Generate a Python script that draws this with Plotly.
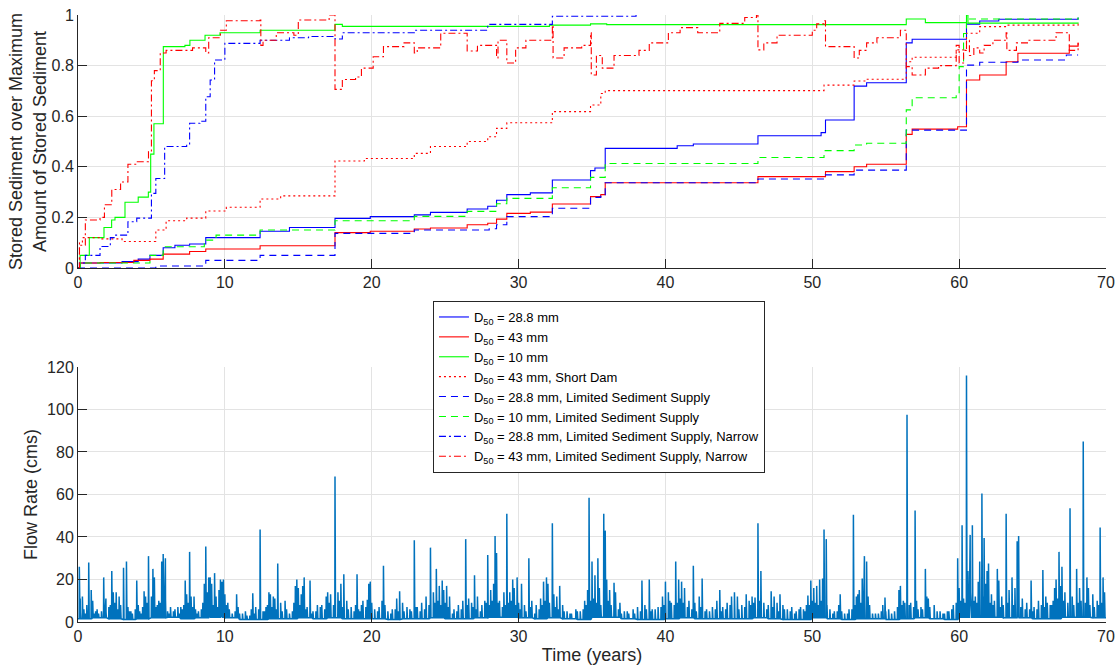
import plotly.graph_objects as go

# ---- Stored sediment / max stored sediment: (year, fraction) step series ----
d288 = [(0, 0), (0.14, 0.02), (3.0, 0.025), (4.1, 0.035), (4.9, 0.05), (5.8, 0.08), (6.6, 0.09),
        (7.6, 0.095), (8.7, 0.12), (12.4, 0.145), (14.4, 0.16), (17.5, 0.196), (19.9, 0.203),
        (22.9, 0.21), (24.0, 0.22), (26.5, 0.233), (27.9, 0.244), (28.5, 0.268), (29.2, 0.29),
        (30.8, 0.297), (32.3, 0.348), (34.9, 0.385), (35.2, 0.395), (35.9, 0.473), (40.8, 0.483),
        (41.9, 0.49), (46.3, 0.523), (50.6, 0.535), (50.9, 0.585), (52.85, 0.719), (53.7, 0.732),
        (56.4, 0.89), (56.8, 0.904), (60.5, 0.964), (61.4, 0.976), (62.7, 0.983), (68.1, 0.99)]

d43 = [(0, 0), (0.14, 0.02), (1.5, 0.022), (3.8, 0.03), (4.9, 0.035), (5.8, 0.055), (7.6, 0.065),
       (8.7, 0.075), (12.4, 0.088), (17.5, 0.14), (19.9, 0.145), (22.9, 0.154), (24.0, 0.158),
       (26.5, 0.171), (27.9, 0.177), (28.5, 0.193), (29.2, 0.216), (30.8, 0.221), (32.3, 0.253),
       (34.9, 0.282), (35.6, 0.29), (35.9, 0.337), (46.3, 0.361), (50.9, 0.381), (52.85, 0.4),
       (53.7, 0.41), (56.4, 0.528), (56.8, 0.549), (59.9, 0.558), (60.5, 0.743), (61.4, 0.763),
       (63.2, 0.815), (64.0, 0.849), (67.5, 0.877), (68.1, 0.89)]

d10 = [(0, 0), (0.14, 0.05), (0.77, 0.12), (1.77, 0.16), (2.29, 0.19), (2.52, 0.20), (3.2, 0.26),
       (4.1, 0.28), (4.79, 0.30), (4.95, 0.45), (5.17, 0.57), (5.81, 0.875), (7.28, 0.88),
       (7.62, 0.90), (8.65, 0.92), (9.67, 0.93), (12.4, 0.94), (17.5, 0.963), (18.0, 0.955),
       (32.1, 0.96), (34.9, 0.965), (36.0, 0.962), (56.4, 0.984), (57.7, 0.97), (60.5, 1.0),
       (60.6, 0.968), (68.1, 0.965)]

d43_short_dam = [(0, 0), (0.1, 0.1), (0.3, 0.12), (1.5, 0.115), (3.0, 0.105), (5.3, 0.15),
                 (6.0, 0.187), (7.4, 0.197), (8.7, 0.225), (10.1, 0.24), (12.4, 0.273),
                 (13.8, 0.285), (17.5, 0.423), (19.5, 0.433), (22.9, 0.453), (24.0, 0.48),
                 (26.5, 0.5), (27.9, 0.519), (28.5, 0.552), (29.2, 0.574), (32.3, 0.618),
                 (34.9, 0.644), (35.6, 0.69), (35.9, 0.701), (50.8, 0.723), (52.85, 0.739),
                 (53.7, 0.746), (56.4, 0.815), (56.8, 0.833), (59.8, 0.862), (60.5, 0.928),
                 (61.4, 0.954), (63.2, 0.96), (68.1, 0.97)]

d288_limited = [(0, 0), (5.3, 0.008), (8.7, 0.03), (12.4, 0.05), (17.5, 0.137), (22.9, 0.15),
                (28.0, 0.155), (28.5, 0.171), (29.2, 0.203), (32.3, 0.236), (34.9, 0.279),
                (35.6, 0.285), (35.9, 0.337), (46.3, 0.352), (50.8, 0.368), (52.85, 0.387),
                (56.4, 0.545), (60.5, 0.802), (61.4, 0.813), (64.0, 0.822), (67.3, 0.842),
                (68.1, 0.842)]

d10_limited = [(0, 0), (0.14, 0.02), (4.9, 0.05), (5.8, 0.084), (8.6, 0.11), (9.4, 0.13),
               (12.4, 0.15), (17.5, 0.187), (22.9, 0.204), (26.5, 0.224), (28.5, 0.254),
               (29.2, 0.275), (32.3, 0.317), (34.9, 0.358), (35.9, 0.413), (46.3, 0.437),
               (50.8, 0.464), (52.85, 0.486), (53.7, 0.493), (56.4, 0.625), (56.8, 0.673),
               (59.8, 0.686), (60.0, 0.796), (60.3, 0.927), (60.5, 0.984), (68.1, 0.99)]

d288_narrow = [(0, 0), (0.1, 0.02), (0.5, 0.05), (1.5, 0.085), (2.2, 0.12), (2.5, 0.13),
               (3.4, 0.183), (4.0, 0.197), (5.0, 0.295), (5.3, 0.354), (5.9, 0.48), (7.4, 0.49),
               (7.6, 0.572), (8.3, 0.58), (8.7, 0.677), (9.0, 0.743), (9.3, 0.822), (10.0, 0.888),
               (12.4, 0.9), (14.4, 0.91), (15.7, 0.915), (17.5, 0.905), (18.0, 0.93),
               (22.9, 0.94), (27.9, 0.963), (32.3, 0.995), (38.0, 1.0)]

d43_narrow = [(0, 0), (0.1, 0.09), (0.5, 0.19), (1.5, 0.2), (1.8, 0.25), (2.3, 0.31), (2.9, 0.34),
              (3.4, 0.41), (4.0, 0.42), (4.8, 0.46), (5.0, 0.74), (5.2, 0.78), (5.6, 0.85),
              (6.0, 0.86), (7.8, 0.87), (8.7, 0.85), (8.9, 0.91), (9.7, 0.94), (10.1, 0.977),
              (12.4, 0.98), (12.45, 0.88), (12.6, 0.9), (13.5, 0.93), (14.7, 0.92), (15.0, 0.98),
              (17.1, 1.0), (17.5, 0.706), (18.0, 0.745), (18.9, 0.755), (19.3, 0.79),
              (20.1, 0.835), (20.8, 0.875), (22.2, 0.89), (22.9, 0.85), (23.1, 0.87),
              (24.7, 0.928), (26.5, 0.858), (27.2, 0.88), (28.5, 0.83), (28.6, 0.9), (29.2, 0.81),
              (29.8, 0.87), (30.5, 0.9), (32.3, 0.96), (32.35, 0.83), (33.1, 0.87), (34.3, 0.88),
              (34.9, 0.93), (34.95, 0.763), (35.3, 0.84), (35.7, 0.79), (36.5, 0.84),
              (38.2, 0.86), (38.9, 0.89), (40.2, 0.93), (41.0, 0.95), (42.2, 0.93),
              (43.7, 0.967), (45.4, 0.99), (46.2, 1.0), (46.3, 0.862), (46.7, 0.89),
              (47.6, 0.92), (50.0, 0.94), (50.3, 0.965), (50.8, 0.977), (50.9, 0.875),
              (52.85, 0.83), (53.2, 0.86), (53.7, 0.89), (54.4, 0.91), (56.0, 0.94),
              (56.4, 0.796), (56.8, 0.763), (57.7, 0.79), (58.6, 0.8), (59.8, 0.88), (60.0, 0.81),
              (60.3, 0.86), (60.5, 0.9), (60.7, 0.84), (61.0, 0.87), (61.4, 0.85), (61.7, 0.88),
              (62.3, 0.9), (63.2, 0.93), (63.25, 0.86), (63.9, 0.89), (64.7, 0.9), (66.6, 0.93),
              (67.3, 0.93), (67.5, 0.86), (68.1, 0.89)]

# ---- Flow record (year, cms): flood peaks, freshets, small ripples; yearly base flow ----
flood_peaks = [(0.09, 26), (0.73, 28), (0.9, 15), (1.75, 21), (2.3, 24), (2.4, 14), (3.1, 25.5),
               (3.3, 28.5), (4.0, 19.5), (4.5, 14.5), (4.8, 31), (5.1, 25), (5.7, 28.5), (5.8, 32),
               (5.95, 30), (7.3, 19.5), (7.6, 33), (7.9, 12), (8.6, 18), (8.7, 35.5), (8.9, 21),
               (9.3, 23), (9.7, 20), (9.9, 20), (10.8, 13), (11.9, 13.5), (12.4, 43.5), (13.0, 14),
               (13.3, 12), (13.6, 27.5), (14.1, 10), (14.9, 20), (15.3, 17), (15.4, 21),
               (15.8, 19.5), (17.0, 14), (17.5, 68.5), (17.9, 18), (18.1, 22.5), (19.0, 22.5),
               (19.7, 10.5), (19.9, 19), (20.8, 26.5), (21.9, 14.5), (22.9, 38.5), (24.0, 35),
               (24.4, 25), (24.8, 19.5), (25.1, 17), (26.4, 39), (27.0, 22), (27.9, 31.5),
               (28.4, 40.5), (28.5, 32.5), (29.2, 51), (29.6, 20), (29.9, 21), (30.2, 18),
               (30.7, 30), (31.9, 21), (32.3, 46.5), (32.8, 17), (34.8, 58.5), (35.0, 28.5),
               (35.4, 30), (35.8, 51), (35.9, 43), (36.5, 18.5), (38.4, 19.5), (38.9, 20),
               (40.0, 19), (40.7, 28.5), (40.9, 20), (41.9, 26.5), (42.5, 20.5), (43.7, 15),
               (44.7, 14), (45.5, 13), (46.1, 11.5), (46.3, 46.5), (46.5, 24), (47.2, 14.5),
               (47.8, 13), (49.7, 12.5), (49.9, 19.5), (50.1, 16), (50.7, 20.5), (50.8, 43.5),
               (50.95, 39), (51.9, 13), (52.8, 50.5), (53.1, 13), (53.4, 20.5), (53.55, 31),
               (53.7, 28.5), (54.95, 11.5), (56.0, 17), (56.45, 97.5), (57.0, 52.5), (57.7, 25),
               (57.8, 12), (59.9, 30), (60.2, 45.5), (60.5, 116), (60.6, 24), (60.75, 41),
               (60.9, 45.5), (61.4, 28.5), (61.55, 60.5), (61.7, 39.5), (61.9, 24), (62.0, 27.5),
               (62.6, 25), (62.7, 19.5), (63.2, 51), (63.6, 21), (63.95, 38), (64.05, 40.5),
               (64.9, 19.5), (65.7, 24.5), (66.5, 16), (66.8, 33), (67.0, 26), (67.55, 53.5),
               (68.0, 25), (68.45, 85), (68.7, 21), (69.6, 44.5), (69.8, 21)]

freshets = [(0.15, 11), (0.3, 12), (0.5, 4), (1.0, 10), (1.2, 5), (1.4, 4), (1.6, 5), (1.9, 11),
            (2.1, 7), (2.2, 8), (2.6, 14), (2.8, 12), (2.9, 8), (3.5, 5), (3.7, 4), (3.9, 6),
            (4.2, 5), (4.4, 7), (4.6, 12), (5.0, 12), (5.2, 21), (5.4, 8), (5.6, 9), (6.1, 5),
            (6.3, 7), (6.6, 6), (6.8, 7), (7.0, 7), (7.2, 8), (7.4, 13), (7.7, 12), (8.0, 6),
            (8.2, 5), (8.4, 6), (8.8, 14), (9.0, 21), (9.1, 18), (9.4, 12), (9.6, 15), (9.8, 19),
            (10.0, 13), (10.2, 9), (10.5, 4), (10.9, 7), (11.2, 4), (11.5, 3), (11.8, 6),
            (12.1, 7), (12.6, 5), (12.8, 7), (13.1, 13), (13.4, 11), (13.8, 9), (14.2, 6),
            (14.6, 5), (14.8, 17), (15.0, 16), (15.2, 13), (15.6, 7), (16.0, 5), (16.3, 8),
            (16.6, 8), (16.9, 12), (17.2, 13), (17.7, 14), (18.3, 10), (18.6, 7), (18.9, 8),
            (19.2, 5), (19.4, 10), (19.8, 18), (20.2, 6), (20.5, 7), (20.7, 10), (21.1, 5),
            (21.4, 6), (21.7, 11), (22.1, 9), (22.4, 7), (22.7, 5), (23.1, 7), (23.4, 9),
            (23.7, 12), (24.2, 14), (24.6, 17), (24.9, 15), (25.3, 12), (25.6, 6), (25.9, 8),
            (26.2, 10), (26.6, 11), (26.8, 9), (27.2, 12), (27.5, 8), (27.7, 10), (28.1, 15),
            (28.3, 18), (28.7, 10), (29.0, 14), (29.4, 14), (29.7, 16), (30.0, 9), (30.4, 8),
            (30.9, 10), (31.2, 8), (31.5, 11), (31.7, 19), (32.0, 18), (32.4, 13), (32.6, 12),
            (33.0, 8), (33.3, 5), (33.6, 4), (33.9, 6), (34.2, 5), (34.5, 10), (34.7, 15),
            (35.2, 22), (35.5, 16), (36.0, 20), (36.2, 15), (36.6, 14), (36.9, 9), (37.2, 5),
            (37.5, 4), (37.8, 6), (38.1, 7), (38.6, 8), (39.1, 6), (39.5, 7), (39.8, 12),
            (40.2, 14), (40.4, 9), (41.1, 19), (41.3, 16), (41.6, 10), (42.0, 9), (42.3, 12),
            (42.8, 6), (43.2, 7), (43.5, 10), (43.9, 7), (44.2, 9), (44.5, 12), (44.9, 12),
            (45.2, 8), (45.7, 10), (45.9, 12), (46.7, 9), (47.0, 8), (47.4, 12), (47.6, 9),
            (48.0, 8), (48.3, 6), (48.6, 7), (48.9, 5), (49.2, 7), (49.4, 6), (49.6, 8),
            (50.3, 17), (50.5, 20), (51.2, 6), (51.5, 5), (51.8, 8), (52.2, 4), (52.5, 6),
            (53.0, 12), (53.2, 15), (53.8, 12), (54.1, 4), (54.5, 4), (54.8, 8), (55.2, 6),
            (55.6, 5), (55.9, 15), (56.2, 10), (56.7, 9), (57.1, 10), (57.4, 7), (57.9, 11),
            (58.3, 8), (58.7, 5), (59.0, 4), (59.3, 5), (59.6, 8), (60.0, 16), (60.3, 11),
            (60.8, 13), (61.1, 12), (61.3, 19), (61.8, 18), (62.2, 13), (62.4, 10), (62.9, 12),
            (63.4, 15), (63.8, 16), (64.3, 11), (64.6, 9), (65.1, 7), (65.4, 10), (65.9, 12),
            (66.2, 8), (66.4, 10), (66.6, 20), (66.9, 17), (67.2, 14), (67.7, 12), (68.2, 16),
            (68.8, 16), (69.1, 13), (69.4, 10), (69.9, 14)]

ripples = [(0.4, 6), (0.6, 8), (1.1, 4), (1.3, 6), (1.85, 5), (2.5, 9), (2.7, 6), (3.4, 7),
           (3.6, 5), (4.1, 8), (4.3, 4), (4.7, 9), (5.3, 7), (5.5, 10), (5.9, 8), (6.2, 4),
           (6.5, 5), (6.9, 4), (7.1, 6), (7.5, 9), (7.8, 7), (8.1, 4), (8.5, 9), (8.95, 10),
           (9.2, 8), (9.5, 7), (9.75, 11), (10.1, 8), (10.3, 6), (10.7, 5), (11.0, 4), (11.4, 5),
           (11.7, 3), (12.0, 4), (12.3, 6), (12.7, 5), (12.9, 8), (13.2, 7), (13.5, 6), (13.9, 5),
           (14.4, 4), (14.7, 9), (15.1, 8), (15.5, 6), (15.9, 4), (16.2, 5), (16.5, 7), (16.8, 6),
           (17.1, 9), (17.4, 8), (17.8, 10), (18.0, 7), (18.4, 6), (18.8, 5), (19.1, 6),
           (19.3, 8), (19.6, 7), (20.0, 9), (20.4, 5), (20.9, 8), (21.3, 4), (21.6, 6), (21.8, 5),
           (22.2, 5), (22.6, 6), (23.0, 7), (23.3, 5), (23.6, 6), (23.9, 8), (24.3, 9),
           (24.5, 10), (24.7, 8), (25.0, 9), (25.2, 7), (25.5, 4), (25.8, 5), (26.1, 6),
           (26.5, 8), (26.9, 7), (27.1, 6), (27.4, 5), (27.8, 9), (28.0, 8), (28.2, 10),
           (28.6, 9), (28.9, 7), (29.1, 8), (29.3, 9), (29.5, 10), (29.8, 8), (30.1, 6),
           (30.5, 5), (30.8, 7), (31.1, 4), (31.4, 6), (31.6, 8), (31.8, 10), (32.1, 9),
           (32.5, 7), (32.7, 6), (33.1, 5), (33.5, 4), (34.0, 5), (34.4, 6), (34.6, 8),
           (34.9, 10), (35.1, 11), (35.3, 9), (35.6, 8), (36.1, 10), (36.3, 8), (36.8, 6),
           (37.0, 4), (37.4, 5), (37.9, 4), (38.3, 5), (38.7, 6), (39.0, 5), (39.3, 6), (39.7, 7),
           (39.9, 8), (40.3, 10), (40.6, 8), (40.8, 9), (41.0, 11), (41.2, 9), (41.5, 7),
           (41.8, 6), (42.1, 5), (42.4, 7), (42.7, 5), (43.0, 5), (43.4, 6), (43.8, 5), (44.1, 6),
           (44.4, 8), (44.7, 7), (45.0, 6), (45.4, 7), (45.8, 8), (46.0, 9), (46.4, 10),
           (46.9, 6), (47.3, 7), (47.7, 5), (48.1, 6), (48.5, 5), (48.8, 4), (49.1, 6), (49.5, 5),
           (49.8, 8), (50.0, 10), (50.2, 9), (50.4, 8), (50.6, 10), (51.0, 8), (51.4, 4),
           (51.7, 5), (52.0, 5), (52.4, 4), (52.7, 6), (52.9, 8), (53.3, 9), (53.5, 10),
           (53.9, 8), (54.3, 4), (54.7, 5), (55.0, 5), (55.4, 4), (55.8, 7), (56.1, 8), (56.3, 9),
           (56.6, 8), (56.9, 7), (57.2, 6), (57.5, 6), (58.0, 7), (58.5, 5), (58.9, 4), (59.2, 5),
           (59.5, 6), (59.8, 9), (60.1, 10), (60.4, 9), (60.7, 11), (61.0, 10), (61.2, 9),
           (61.6, 12), (62.1, 9), (62.3, 8), (62.8, 7), (63.0, 8), (63.3, 9), (63.7, 8),
           (64.0, 10), (64.2, 7), (64.5, 6), (64.8, 6), (65.0, 5), (65.3, 6), (65.6, 8),
           (65.8, 7), (66.0, 9), (66.3, 8), (66.7, 11), (67.1, 10), (67.4, 9), (67.8, 8),
           (68.1, 9), (68.3, 10), (68.6, 9), (68.9, 8), (69.2, 7), (69.5, 8), (69.7, 9)]

base_flow = [1.5, 2, 1.5, 1.2, 1.5, 2, 2.2, 1.5, 2, 2.2, 2, 1.2, 1.2, 1.5, 1.5, 2, 1.5, 2, 1.5, 1.5,
             1.5, 1.2, 1.5, 1.5, 2, 1.5, 1.5, 2, 2.2, 2.2, 2, 1.5, 2, 1.5, 1.2, 2.2, 2.2, 1.5, 1.2,
             1.2, 1.5, 2, 1.5, 1.5, 1.5, 1.5, 2, 1.5, 1.2, 1.2, 2, 1.5, 1.2, 1.5, 1.5, 1.2, 1.5,
             2, 1.5, 1.2, 2.2, 2.2, 2.2, 2, 2, 1.5, 1.5, 2.2, 2.2, 2, 2]

BLUE, RED, GREEN = "rgb(0,0,255)", "rgb(255,0,0)", "rgb(0,255,0)"
DASH, DOT, DASHDOT = "7px,5px", "2px,3px", "7px,3px,2px,3px"

series = [
    ("D<sub>50</sub> = 28.8 mm", d288, BLUE, "solid"),
    ("D<sub>50</sub> = 43 mm", d43, RED, "solid"),
    ("D<sub>50</sub> = 10 mm", d10, GREEN, "solid"),
    ("D<sub>50</sub> = 43 mm, Short Dam", d43_short_dam, RED, DOT),
    ("D<sub>50</sub> = 28.8 mm, Limited Sediment Supply", d288_limited, BLUE, DASH),
    ("D<sub>50</sub> = 10 mm, Limited Sediment Supply", d10_limited, GREEN, DASH),
    ("D<sub>50</sub> = 28.8 mm, Limited Sediment Supply, Narrow", d288_narrow, BLUE, DASHDOT),
    ("D<sub>50</sub> = 43 mm, Limited Sediment Supply, Narrow", d43_narrow, RED, DASHDOT),
]

fig = go.Figure()
for name, pts, color, dash in series:
    fig.add_trace(go.Scatter(
        x=[p[0] for p in pts], y=[p[1] for p in pts], name=name, mode="lines",
        line=dict(color=color, width=1.1, dash=dash, shape="hv"),
        xaxis="x", yaxis="y",
    ))

# hydrograph: each event rises from the base flow and recedes back to it
events = sorted(flood_peaks + freshets + ripples)
fx, fy = [0.0], [base_flow[0]]
for t, q in events:
    b = base_flow[int(t)]
    fx += [t - 0.012, t, t + 0.01, t + 0.035]
    fy += [b, q, b + 0.3 * (q - b), b]
fx.append(70.0)
fy.append(base_flow[-1])
fig.add_trace(go.Scatter(x=fx, y=fy, mode="lines", showlegend=False,
                         line=dict(color="#0072BD", width=1.5),
                         xaxis="x2", yaxis="y2"))

FONT = "Liberation Sans, Arial, Helvetica, sans-serif"
INK = "#262626"
GRID = "#e3e3e3"
axis_common = dict(showgrid=True, gridcolor=GRID, gridwidth=1, zeroline=False,
                   showline=True, linecolor=INK, linewidth=1, ticks="inside",
                   ticklen=9, tickcolor=INK, tickfont=dict(size=16, color=INK),
                   mirror=False, automargin=False)

fig.update_layout(
    width=1119, height=666,
    margin=dict(l=78, r=13, t=15, b=44),
    paper_bgcolor="white", plot_bgcolor="white",
    font=dict(family=FONT, color=INK),
    xaxis=dict(domain=[0, 1], range=[0, 70], tickvals=list(range(0, 71, 10)),
               anchor="y", **axis_common),
    yaxis=dict(domain=[0.5832, 1], range=[0, 1], tickvals=[0, 0.2, 0.4, 0.6, 0.8, 1],
               ticktext=["0", "0.2", "0.4", "0.6", "0.8", "1"], anchor="x",
               title=dict(text="Stored Sediment over Maximum<br>Amount of Stored Sediment",
                          font=dict(size=18, color=INK), standoff=0),
               **axis_common),
    xaxis2=dict(domain=[0, 1], range=[0, 70], tickvals=list(range(0, 71, 10)),
                anchor="y2",
                title=dict(text="Time (years)", font=dict(size=18, color=INK), standoff=4),
                **axis_common),
    yaxis2=dict(domain=[0, 0.4201], range=[0, 120], tickvals=list(range(0, 121, 20)),
                anchor="x2",
                title=dict(text="Flow Rate (cms)", font=dict(size=18, color=INK), standoff=4),
                **axis_common),
    legend=dict(x=0.3453, y=0.5288, xanchor="left", yanchor="top",
                bgcolor="white", bordercolor=INK, borderwidth=1,
                font=dict(size=13, color="black", family=FONT),
                tracegroupgap=0, itemwidth=30),
)

fig.write_html("out.html")
